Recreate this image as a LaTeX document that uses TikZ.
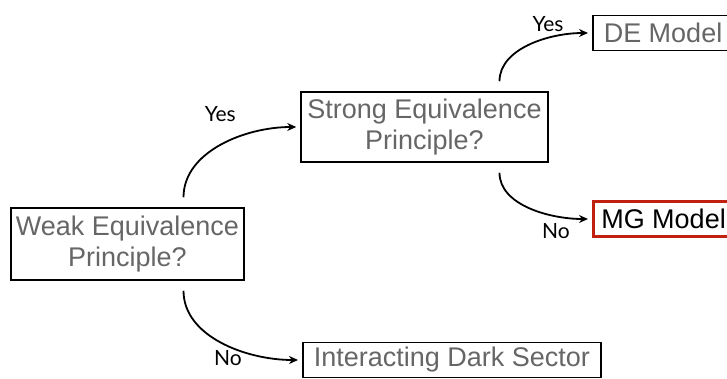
\documentclass[tikz,border=0pt]{standalone}
\usepackage{fontspec}
\setmainfont{Liberation Sans}
\newfontfamily\answerfont{Lato}
\usetikzlibrary{arrows.meta, positioning}
\definecolor{boxgray}{HTML}{666666}
\definecolor{mgred}{HTML}{C0200E}
\tikzset{
    question/.style={rectangle, draw=black, line width=1.5pt, text=boxgray, align=center, font=\fontsize{27}{31}\selectfont, inner sep=3pt},
    outcome/.style={rectangle, draw=black, line width=1.5pt, text=boxgray, font=\fontsize{27}{31}\selectfont, inner xsep=11pt, minimum height=35pt, anchor=west},
    chosen/.style={outcome, draw=mgred, line width=2.5pt, text=black, inner xsep=8pt},
    arrow/.style={line width=1.8pt, -{Stealth[length=9pt,width=8pt]}, shorten <=10pt, shorten >=4pt},
    answer/.style={font=\answerfont\fontsize{21}{21}\selectfont, inner sep=1pt, pos=1},
}

\begin{document}
\begin{tikzpicture}[x=1pt,y=1pt]
  \clip (0,0) rectangle (727,378);
  \node[question, minimum width=233pt, minimum height=72pt] (weak) at (127.5,134) {Weak Equivalence\\Principle?};
  \node[question, minimum width=247pt, minimum height=70pt] (strong) at (424.5,251) {Strong Equivalence\\Principle?};
  \node[outcome] (de)  at (592,345) {DE Model};
  \node[chosen]  (mg)  at (592,159) {MG Model};
  \node[outcome] (ids) at (302,18)  {Interacting Dark Sector};

  \draw[arrow] ([xshift=56pt]weak.north) to[out=90,in=180] node[answer, xshift=-80pt, yshift=13pt] {Yes} (strong.west);
  \draw[arrow] ([xshift=56pt]weak.south) to[out=-90,in=180] node[answer, xshift=-74pt, yshift=2pt] {No} (ids.west);
  \draw[arrow] ([xshift=75pt]strong.north) to[out=90,in=180] node[answer, xshift=-44pt, yshift=9pt] {Yes} (de.west);
  \draw[arrow] ([xshift=75pt]strong.south) to[out=-90,in=180] node[answer, xshift=-36pt, yshift=-12pt] {No} (mg.west);
\end{tikzpicture}
\end{document}
